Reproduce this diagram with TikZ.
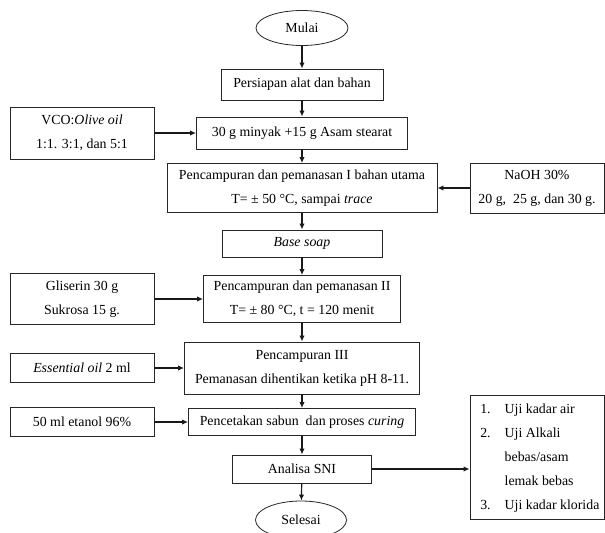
\documentclass[tikz,border=0pt]{standalone}
\usepackage{fontspec}
\setmainfont{Liberation Serif}
\usetikzlibrary{shapes.geometric,arrows.meta}
\begin{document}
\begin{tikzpicture}[x=0.75pt,y=-0.75pt,
  every node/.style={font=\fontsize{10.4}{18}\selectfont},
  box/.style={draw=black!85, line width=0.6pt, inner sep=0pt, align=center},
  oval/.style={draw=black!85, line width=0.6pt, ellipse, inner sep=0pt},
  arr/.style={draw=black!90, line width=0.9pt, -{Latex[length=4.5pt,width=4pt]}}]
\useasboundingbox (0,0) rectangle (605,532);
\fill[white] (0,0) rectangle (605,532);

\node[oval, minimum width=69pt, minimum height=26.25pt] (mulai) at (302,28) {Mulai};
\node[box, minimum width=121.5pt, minimum height=23.25pt] (persiapan) at (302,84.5) {Persiapan alat dan bahan};
\node[box, minimum width=108pt, minimum height=39pt] (vco) at (82,133) {VCO:\textit{Olive oil}\\1:1. 3:1, dan 5:1};
\node[box, minimum width=158.25pt, minimum height=24pt] (minyak) at (302,133) {30 g minyak +15 g Asam stearat};
\node[box, minimum width=202.5pt, minimum height=36.75pt] (p1) at (302,188) {Pencampuran dan pemanasan I bahan utama\\T= ± 50 °C, sampai \textit{trace}};
\node[box, minimum width=100.5pt, minimum height=37.5pt] (naoh) at (537,188) {NaOH 30\%\\20 g,\ \ 25 g, dan 30 g.};
\node[box, minimum width=120pt, minimum height=20.25pt] (base) at (302,243.5) {\textit{Base soap}};
\node[box, minimum width=108pt, minimum height=38.25pt] (glis) at (82,299) {Gliserin 30 g\\Sukrosa 15 g.};
\node[box, minimum width=147.75pt, minimum height=35.25pt] (p2) at (302,299) {Pencampuran dan pemanasan II\\T= ± 80 °C, t = 120 menit};
\node[box, minimum width=176.25pt, minimum height=39pt] (p3) at (302,368) {Pencampuran III\\Pemanasan dihentikan ketika pH 8-11.};
\node[box, minimum width=108pt, minimum height=21.75pt] (ess) at (82,368) {\textit{Essential oil} 2 ml};
\node[box, minimum width=108pt, minimum height=21.75pt] (etanol) at (82,422) {50 ml etanol 96\%};
\node[box, minimum width=170.25pt, minimum height=20.25pt] (cetak) at (302,422) {Pencetakan sabun\ \ dan proses \textit{curing}};
\node[box, minimum width=104.25pt, minimum height=21pt] (analisa) at (302,469) {Analisa SNI};
\node[oval, minimum width=68.25pt, minimum height=28.5pt] (selesai) at (301,520) {Selesai};
\node[box, minimum width=100.5pt, minimum height=93pt] (uji) at (537,457) {};
\node[anchor=west, inner sep=0pt] (ujitext) at (480,457) {\begin{tabular}{@{}l@{\hspace{10.5pt}}l@{}}
1. & Uji kadar air\\
2. & Uji Alkali\\
   & bebas/asam\\
   & lemak bebas\\
3. & Uji kadar klorida
\end{tabular}};

\draw[arr] (mulai) -- (persiapan);
\draw[arr] (persiapan) -- (minyak);
\draw[arr] (minyak) -- (p1);
\draw[arr] (p1) -- (base);
\draw[arr] (base) -- (p2);
\draw[arr] (p2) -- (p3);
\draw[arr] (p3) -- (cetak);
\draw[arr] (cetak) -- (analisa);
\draw[arr] (analisa) -- (selesai);
\draw[arr] (vco) -- (minyak);
\draw[arr] (naoh) -- (p1);
\draw[arr] (glis) -- (p2);
\draw[arr] (ess) -- (p3);
\draw[arr] (etanol) -- (cetak);
\draw[arr] (analisa.east) -- (analisa.east -| uji.west);
\end{tikzpicture}
\end{document}
